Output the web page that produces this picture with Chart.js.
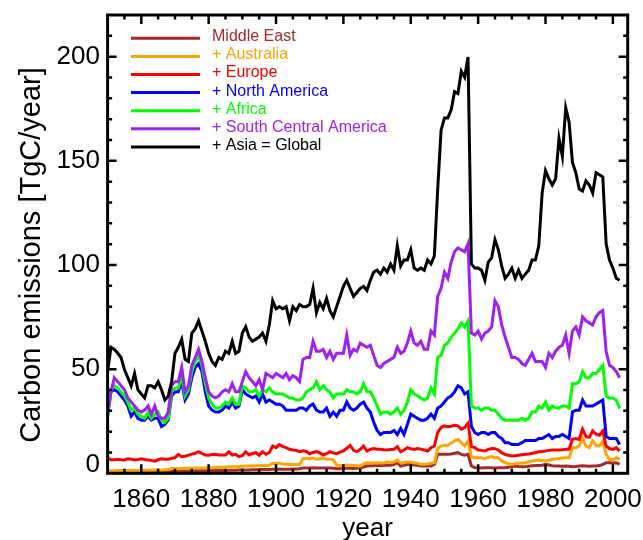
<!DOCTYPE html>
<html>
<head>
<meta charset="utf-8">
<script src="https://cdn.jsdelivr.net/npm/chart.js@4.4.1/dist/chart.umd.min.js"></script>
<style>
  body { margin: 0; background: #fff; }
  canvas { display: block; }
</style>
</head>
<body>
<canvas id="c" width="643" height="540"></canvas>
<script>
// --- Data (TgC/year, cumulative as plotted, 1850..2002) ---
const firstYear = 1850;
const xTickYears = [1860, 1880, 1900, 1920, 1940, 1960, 1980, 2000];
const yTickValues = [0, 50, 100, 150, 200];

const seriesLabels = ['Middle East', '+ Australia', '+ Europe', '+ North America', '+ Africa', '+ South Central America', '+ Asia = Global'];
const seriesColors = ['#a52a2a', '#ffa500', '#ff0000', '#0000ff', '#00ff00', '#a020f0', '#000000'];

const middleEast = [
  0.5,0.5,0.5,0.5,0.5,0.6,0.6,0.6,0.6,0.6,
  0.6,0.7,0.7,0.7,0.7,0.7,0.7,0.8,0.8,0.9,
  1.0,1.0,1.0,1.1,1.1,1.1,1.2,1.2,1.2,1.2,
  1.3,1.3,1.3,1.4,1.4,1.4,1.5,1.5,1.5,1.6,
  1.6,1.6,1.6,1.7,1.7,1.7,1.8,1.8,1.8,2.0,
  2.0,2.1,2.0,2.0,2.0,2.1,2.1,2.2,2.5,2.6,
  2.6,2.7,2.6,2.6,2.6,2.5,2.5,2.4,2.2,2.2,
  2.3,2.4,2.4,2.3,2.4,2.7,3.0,3.5,3.6,3.6,
  3.8,3.8,3.8,3.9,3.9,4.2,5.1,3.5,3.8,4.2,
  4.3,4.0,3.8,3.5,3.5,3.5,3.5,4.3,9.1,9.1,
  9.1,9.1,9.3,9.6,9.9,9.1,8.7,9.1,3.5,2.7,
  2.7,2.6,2.7,2.7,2.7,2.6,2.7,2.7,2.7,2.9,
  3.1,3.5,3.3,3.2,3.2,3.4,3.6,3.8,3.7,3.9,
  4.3,4.0,3.6,3.5,3.5,3.4,3.5,3.4,3.2,3.3,
  3.5,3.6,3.5,3.4,3.5,3.5,3.7,4.2,5.1,5.1,
  5.0,5.1,4.3
];
const plusAustralia = [
  1.2,1.2,1.2,1.3,1.3,1.2,1.3,1.3,1.4,1.4,
  1.5,1.5,1.5,1.5,1.6,1.6,1.6,1.7,1.8,2.3,
  2.3,2.2,2.3,2.4,2.4,2.4,2.5,2.6,2.5,2.6,
  2.7,2.7,2.8,2.9,2.9,3.0,3.2,3.1,3.2,3.3,
  3.4,3.5,3.5,3.6,3.6,3.6,3.7,3.7,3.9,4.8,
  4.6,4.9,4.4,4.3,4.2,4.3,4.2,4.2,7.0,7.2,
  7.0,7.3,6.8,7.0,7.1,6.9,6.8,6.5,3.8,3.7,
  3.8,4.0,3.8,3.7,3.6,3.5,4.5,5.1,5.0,5.0,
  5.1,5.0,5.0,5.4,5.2,5.4,6.4,5.0,5.2,5.4,
  5.4,5.0,4.8,4.3,4.3,4.5,4.8,5.1,11.9,13.1,
  13.5,13.5,14.5,15.5,16.3,14.7,13.1,15.5,8.0,7.5,
  7.5,7.5,7.1,7.6,8.0,7.5,7.5,5.9,5.1,4.6,
  4.3,4.6,5.0,5.0,5.1,5.5,5.9,6.1,6.4,6.2,
  5.9,6.3,6.7,6.9,7.1,7.3,7.5,7.5,12.3,12.3,
  13.1,16.7,13.1,12.3,15.5,13.5,13.1,15.5,9.1,6.7,
  6.4,7.5,6.7
];
const plusEurope = [
  7.5,6.5,6.5,6.7,6.5,6.4,7.0,6.8,6.4,6.6,
  7.0,6.6,6.4,6.2,5.8,6.5,7.0,6.8,6.7,7.2,
  7.5,9.1,8.0,8.2,8.7,9.2,9.6,10.4,9.5,8.8,
  8.7,9.0,9.1,8.8,8.8,8.8,10.3,8.7,9.1,8.0,
  8.5,10.3,8.9,9.5,9.9,8.7,10.3,9.1,10.0,13.1,
  12.3,13.8,12.8,12.3,11.5,11.2,11.0,10.4,10.8,10.5,
  9.4,10.0,10.4,9.8,8.8,9.5,10.4,9.8,9.4,10.2,
  10.8,12.0,13.4,11.0,10.4,11.5,13.1,10.7,11.5,11.9,
  11.6,11.5,11.3,11.2,11.4,11.5,12.8,10.3,11.2,12.3,
  11.8,11.5,11.9,11.6,11.2,10.7,12.3,13.1,19.6,22.0,
  22.8,22.4,22.6,23.1,22.8,21.2,22.0,24.0,12.8,12.3,
  11.2,11.0,10.7,11.5,11.9,11.8,11.2,9.9,9.0,8.7,
  8.3,8.4,8.7,8.9,9.1,9.3,9.6,9.9,10.3,10.5,
  10.7,11.0,11.2,11.2,11.2,11.3,11.5,11.5,16.3,16.7,
  16.3,21.2,17.6,17.3,20.3,18.8,18.3,20.3,13.1,11.9,
  11.5,12.3,10.7
];
const plusNorthAmerica = [
  27.4,39.1,40.1,39.1,37.1,35.2,32.3,27.4,29.4,26.4,
  25.5,25.5,27.4,25.5,26.4,26.4,22.5,23.5,25.5,37.1,
  39.1,39.1,44.0,35.2,38.1,45.9,50.8,52.7,48.8,39.1,
  32.3,30.3,29.4,29.4,30.3,32.3,31.3,34.2,31.3,32.3,
  40.1,38.1,37.1,36.2,37.1,34.2,38.1,34.2,35.2,34.2,
  33.2,33.2,32.3,30.3,30.3,30.3,30.3,31.3,31.3,30.3,
  32.3,33.2,30.3,29.4,29.4,31.3,27.4,29.4,27.4,30.3,
  30.3,34.2,31.3,30.3,31.3,33.2,34.2,31.3,29.4,24.5,
  20.6,18.6,19.6,19.6,19.6,20.6,18.6,21.6,18.6,23.5,
  28.4,27.4,26.4,25.5,25.5,26.4,28.4,26.4,31.3,32.3,
  34.2,36.2,37.1,39.1,42.0,41.0,38.1,39.1,22.5,19.6,
  18.6,19.6,19.6,18.6,19.6,19.6,17.7,16.7,14.7,14.7,
  13.8,13.8,13.8,14.7,15.7,15.7,15.7,15.7,16.7,16.7,
  17.7,18.6,16.7,17.7,17.7,18.6,17.7,16.7,29.4,30.3,
  30.3,35.2,32.3,32.3,32.3,33.2,34.2,35.2,17.7,16.7,
  16.7,16.7,13.8
];
const plusAfrica = [
  29.4,40.1,42.0,41.0,39.1,37.1,34.2,30.3,31.3,28.4,
  27.4,26.4,29.4,26.4,28.4,29.4,25.5,24.5,26.4,39.1,
  41.0,41.0,46.9,37.1,40.1,48.8,53.7,56.6,51.8,43.0,
  36.2,33.2,31.3,31.3,32.3,34.2,33.2,36.2,33.2,33.2,
  42.0,41.0,39.1,39.1,40.1,37.1,40.1,39.1,41.0,39.1,
  38.1,38.1,38.1,37.1,36.2,36.2,35.2,35.2,36.2,39.1,
  40.1,41.0,44.0,40.1,42.0,40.1,39.1,36.2,38.1,38.1,
  38.1,40.1,39.1,39.1,38.1,39.1,43.0,39.1,39.1,36.2,
  32.3,28.4,29.4,29.4,28.4,29.4,31.3,28.4,30.3,34.2,
  40.1,38.1,37.1,36.2,35.2,36.2,41.0,38.1,55.6,56.6,
  61.5,62.5,65.4,67.3,69.3,72.2,70.3,73.2,32.3,31.3,
  31.3,30.3,31.3,31.3,30.3,30.3,28.4,26.4,25.5,25.5,
  25.5,25.5,25.5,26.4,25.5,26.4,29.4,29.4,32.3,31.3,
  34.2,30.3,32.3,31.3,31.3,32.3,32.3,31.3,43.0,43.0,
  44.0,48.8,45.9,45.9,47.9,47.9,49.8,51.8,37.1,36.2,
  36.2,35.2,31.3
];
const plusSouthCentralAmerica = [
  30.3,39.1,45.9,44.0,42.0,40.1,36.2,34.2,32.3,30.3,
  29.4,30.3,32.3,28.4,32.3,27.4,26.4,26.4,29.4,42.0,
  44.0,44.0,50.8,39.1,42.0,51.8,55.6,59.5,53.7,45.9,
  39.1,37.1,36.2,37.1,39.1,40.1,39.1,43.0,39.1,39.1,
  44.0,48.8,45.9,44.0,42.0,44.9,40.1,47.9,46.9,45.9,
  47.9,46.9,45.9,47.9,44.9,46.9,45.9,44.0,54.7,55.6,
  55.6,63.4,58.6,58.6,59.5,55.6,58.6,54.7,57.6,57.6,
  57.6,66.4,56.6,59.5,58.6,62.5,61.5,60.5,61.5,56.6,
  51.8,50.8,52.7,53.7,54.7,55.6,60.5,57.6,58.6,62.5,
  68.3,62.5,61.5,63.4,59.5,59.5,68.3,66.4,84.9,88.8,
  96.6,93.6,101.4,106.3,108.2,107.3,106.3,110.2,67.3,66.4,
  68.3,64.4,67.3,68.3,70.3,82.9,80.0,71.2,65.4,60.5,
  55.6,55.6,54.7,52.7,51.8,54.7,57.6,53.7,53.7,53.7,
  50.8,57.6,55.6,58.6,60.5,61.5,66.4,57.6,68.3,70.3,
  66.4,75.1,73.2,72.2,71.2,75.1,77.1,78.1,58.6,51.8,
  50.8,48.8,45.9
];
const plusAsiaGlobal = [
  48.8,60.5,59.5,57.6,55.6,49.8,45.9,42.0,47.9,40.1,
  38.1,36.2,42.0,42.0,41.0,44.0,40.1,35.2,37.1,44.0,
  57.6,60.5,64.4,54.7,53.7,67.3,69.3,73.2,68.3,63.4,
  57.6,53.7,51.8,55.6,54.7,58.6,57.6,63.4,57.6,58.6,
  67.3,70.3,65.4,63.4,64.4,65.4,67.3,63.4,71.2,82.9,
  79.0,80.0,79.0,80.0,73.2,80.0,78.1,81.0,80.0,80.0,
  81.0,88.8,77.1,82.0,79.0,83.9,78.1,75.1,80.0,84.9,
  89.7,92.7,88.8,84.9,86.8,88.8,89.7,87.8,92.7,96.6,
  97.5,95.6,98.5,96.6,100.5,97.5,109.2,99.5,102.4,102.4,
  107.3,98.5,97.5,98.5,97.5,102.4,100.5,104.3,136.5,164.7,
  170.6,170.6,174.5,183.2,182.3,193.0,190.1,199.8,100.5,98.5,
  98.5,97.5,92.7,101.4,103.4,112.1,107.3,99.5,93.6,95.6,
  98.5,93.6,97.5,93.6,95.6,97.5,102.4,102.4,109.2,134.5,
  145.3,141.4,138.4,141.4,160.8,152.1,175.5,168.6,149.2,144.3,
  136.5,135.5,140.4,138.4,134.5,144.3,143.3,142.3,110.2,102.4,
  98.5,93.6,92.7
];

const allSeries = [middleEast, plusAustralia, plusEurope, plusNorthAmerica, plusAfrica, plusSouthCentralAmerica, plusAsiaGlobal];

// --- Look ---
const FONT = '"Liberation Sans", Arial, Helvetica, sans-serif';

const idlAxes = {
    id: 'idlAxes',
    afterDatasetsDraw(chart) {
        const { ctx, chartArea: a, scales: { x, y } } = chart;
        ctx.save();
        ctx.strokeStyle = '#000';
        ctx.lineWidth = 2.5;
        ctx.lineCap = 'butt';
        ctx.beginPath();
        // x ticks, every 5 years, long every 20
        for (let v = x.min - (x.min % 5) + 5; v < x.max; v += 5) {
            const px = x.getPixelForValue(v);
            const len = xTickYears.includes(v) ? 9 : 4.5;
            ctx.moveTo(px, a.bottom); ctx.lineTo(px, a.bottom - len);
            ctx.moveTo(px, a.top); ctx.lineTo(px, a.top + len);
        }
        // y ticks, every 10, long every 50
        for (let v = 10; v < y.max; v += 10) {
            const py = y.getPixelForValue(v);
            const len = yTickValues.includes(v) ? 9 : 4.5;
            ctx.moveTo(a.left, py); ctx.lineTo(a.left + len, py);
            ctx.moveTo(a.right, py); ctx.lineTo(a.right - len, py);
        }
        ctx.stroke();
        ctx.lineWidth = 3;
        ctx.strokeRect(a.left, a.top, a.right - a.left, a.bottom - a.top);

        // tick labels
        ctx.fillStyle = '#000';
        ctx.font = '26px ' + FONT;
        ctx.textAlign = 'center';
        ctx.textBaseline = 'alphabetic';
        xTickYears.forEach(v => ctx.fillText(String(v), x.getPixelForValue(v), 507));
        ctx.textAlign = 'right';
        ctx.textBaseline = 'middle';
        yTickValues.forEach(v => {
            const py = Math.min(y.getPixelForValue(v), a.bottom - 8);
            ctx.fillText(String(v), 100, py);
        });

        // axis titles
        ctx.textAlign = 'center';
        ctx.textBaseline = 'alphabetic';
        ctx.fillText('year', (a.left + a.right) / 2, 536);
        ctx.save();
        ctx.font = '29px ' + FONT;
        ctx.translate(40, 255);
        ctx.rotate(-Math.PI / 2);
        ctx.fillText('Carbon emissions [TgC/year]', 0, 0);
        ctx.restore();

        // legend
        ctx.font = '16px ' + FONT;
        ctx.textAlign = 'left';
        ctx.textBaseline = 'middle';
        chart.data.datasets.forEach((ds, i) => {
            const ly = 38.3 + 18.1 * i;
            ctx.strokeStyle = ds.borderColor;
            ctx.lineWidth = 3;
            ctx.beginPath();
            ctx.moveTo(131, ly); ctx.lineTo(200, ly);
            ctx.stroke();
            ctx.fillStyle = ds.borderColor;
            ctx.fillText(ds.label, 212, ly - 1.5);
        });
        ctx.restore();
    }
};

const datasets = allSeries.map((vals, i) => ({
    label: seriesLabels[i],
    data: vals.map((v, k) => ({ x: firstYear + k, y: v })),
    borderColor: seriesColors[i],
    borderWidth: 3,
    pointRadius: 0,
    tension: 0,
    fill: false,
    order: allSeries.length - i
}));

new Chart(document.getElementById('c').getContext('2d'), {
    type: 'line',
    data: { datasets: datasets },
    plugins: [idlAxes],
    options: {
        responsive: false,
        animation: false,
        events: [],
        layout: { padding: { left: 107.6, right: 15.3, top: 15, bottom: 66.7 } },
        plugins: { legend: { display: false }, tooltip: { enabled: false } },
        scales: {
            x: { type: 'linear', min: 1850, max: 2004.4, display: false },
            y: { type: 'linear', min: 0, max: 220, display: false }
        }
    }
});
</script>
</body>
</html>
